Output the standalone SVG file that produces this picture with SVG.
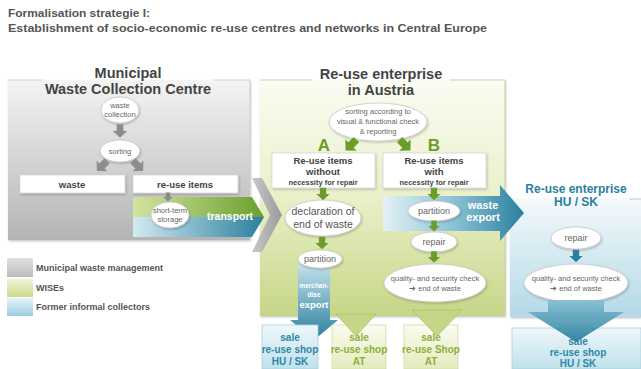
<svg xmlns="http://www.w3.org/2000/svg" xmlns:xlink="http://www.w3.org/1999/xlink" width="641" height="369" viewBox="0 0 641 369">
<defs>
<style>
text{font-family:"Liberation Sans",Arial,sans-serif;}
.ttl{font-size:11px;font-weight:bold;fill:#555;}
.hd{font-size:14.5px;font-weight:bold;fill:#444;text-anchor:middle;}
.hdb{font-size:12px;font-weight:bold;fill:#2a7f9e;text-anchor:middle;}
.el{fill:#fff;stroke:#c8c8c8;stroke-width:0.8;filter:url(#sh);}
.et{font-size:7.5px;fill:#666;text-anchor:middle;}
.em{font-size:9px;fill:#666;text-anchor:middle;}
.eb{font-size:10.5px;fill:#555;text-anchor:middle;}
.bx{fill:#fff;stroke:#d8d8d8;stroke-width:0.8;filter:url(#sh);}
.bt{font-size:9.5px;font-weight:bold;fill:#444;text-anchor:middle;}
.bs{font-size:7.5px;font-weight:bold;fill:#444;text-anchor:middle;}
.wt{font-weight:bold;fill:#fff;text-anchor:middle;}
.lg{font-size:9px;font-weight:bold;fill:#555;}
.sb{font-size:10px;font-weight:bold;fill:#2f87a6;text-anchor:middle;}
.sg{font-size:10px;font-weight:bold;fill:#8fae3c;text-anchor:middle;}
.ga{fill:#8c8c8c;}
.gr{fill:#6a9e2c;}
.bl{fill:#2a7f9e;}
.ab{font-size:17px;font-weight:bold;fill:#6a9e2c;text-anchor:middle;}
</style>
<filter id="sh" x="-20%" y="-20%" width="140%" height="150%"><feDropShadow dx="0.8" dy="1.2" stdDeviation="1" flood-color="#000" flood-opacity="0.25"/></filter>
<linearGradient id="gGray" x1="0" y1="0" x2="0" y2="1"><stop offset="0" stop-color="#f4f4f4"/><stop offset="1" stop-color="#b4b4b4"/></linearGradient>
<linearGradient id="gGreen" x1="0" y1="0" x2="0" y2="1"><stop offset="0" stop-color="#fbfcf3"/><stop offset="0.5" stop-color="#eaf0c8"/><stop offset="1" stop-color="#c6d688"/></linearGradient>
<linearGradient id="gBlue" x1="0" y1="0" x2="0" y2="1"><stop offset="0" stop-color="#f4f9fb"/><stop offset="1" stop-color="#b2d9e6"/></linearGradient>
<linearGradient id="gShopB" x1="0" y1="0" x2="0" y2="1"><stop offset="0" stop-color="#eef7fa"/><stop offset="1" stop-color="#bfe1ec"/></linearGradient>
<linearGradient id="gShopG" x1="0" y1="0" x2="0" y2="1"><stop offset="0" stop-color="#fbfcf0"/><stop offset="1" stop-color="#e4ebbd"/></linearGradient>
<linearGradient id="gTrG" x1="0" y1="0" x2="1" y2="0"><stop offset="0" stop-color="#d3e4a0"/><stop offset="1" stop-color="#6a9f2e"/></linearGradient>
<linearGradient id="gTrB" x1="0" y1="0" x2="1" y2="0"><stop offset="0" stop-color="#d3eaf2"/><stop offset="1" stop-color="#2a7f9e"/></linearGradient>
<linearGradient id="gWe" x1="0" y1="0" x2="1" y2="0"><stop offset="0" stop-color="#e4f1f6"/><stop offset="0.5" stop-color="#8cc2d6"/><stop offset="1" stop-color="#2a7f9e"/></linearGradient>
<linearGradient id="gMe" x1="0" y1="0" x2="0" y2="1"><stop offset="0" stop-color="#c4e1eb"/><stop offset="1" stop-color="#2a7f9e"/></linearGradient>
<linearGradient id="gBig" x1="0" y1="0" x2="0" y2="1"><stop offset="0" stop-color="#86c0d4"/><stop offset="1" stop-color="#2a7f9e"/></linearGradient>
<linearGradient id="gChev" x1="0" y1="0" x2="1" y2="0"><stop offset="0" stop-color="#c8c8c8"/><stop offset="1" stop-color="#9a9a9a"/></linearGradient>
<linearGradient id="gLg1" x1="0" y1="0" x2="0" y2="1"><stop offset="0" stop-color="#e2e2e2"/><stop offset="1" stop-color="#bdbdbd"/></linearGradient>
<linearGradient id="gLg2" x1="0" y1="0" x2="0" y2="1"><stop offset="0" stop-color="#f1f4d6"/><stop offset="1" stop-color="#cbd98c"/></linearGradient>
<linearGradient id="gLg3" x1="0" y1="0" x2="0" y2="1"><stop offset="0" stop-color="#e5f3f8"/><stop offset="1" stop-color="#9ccfe0"/></linearGradient>
<path id="blk" d="M-4.5,-9 H4.5 V0 H9.5 L0,9 L-9.5,0 H-4.5 Z"/>
</defs>

<rect width="641" height="369" fill="#fff"/>

<g id="title">
<text class="ttl" x="8" y="17" textLength="142" lengthAdjust="spacingAndGlyphs">Formalisation strategie I:</text>
<text class="ttl" x="8" y="32" textLength="479" lengthAdjust="spacingAndGlyphs">Establishment of socio-economic re-use centres and networks in Central Europe</text>
</g>

<!-- containers -->
<g id="municipal-centre">
<rect x="8" y="80" width="242" height="160" fill="url(#gGray)" filter="url(#sh)"/>
<path d="M8,80 H42 M214,80 H250 V240" fill="none" stroke="#d0d0d0" stroke-width="1"/>
<text class="hd" x="128" y="78">Municipal</text>
<text class="hd" x="128" y="94">Waste Collection Centre</text>
</g>

<g id="reuse-austria">
<rect x="260" y="80" width="245" height="236" fill="url(#gGreen)" filter="url(#sh)"/>
<path d="M260,80 H312 M450,80 H505 V316" fill="none" stroke="#c9d3a4" stroke-width="1"/>
<text class="hd" x="381" y="79">Re-use enterprise</text>
<text class="hd" x="381" y="95">in Austria</text>
</g>

<g id="reuse-husk">
<rect x="510" y="199" width="131" height="118" fill="url(#gBlue)" filter="url(#sh)"/>
<path d="M630,199 H641" fill="none" stroke="#b0ccd6" stroke-width="1"/>
<text class="hdb" x="576" y="193">Re-use enterprise</text>
<text class="hdb" x="576" y="206">HU / SK</text>
</g>

<!-- bands -->
<g id="transport">
<polygon points="252,178 262,178 282,215 262,252 252,252 270,215" fill="url(#gChev)"/>
<polygon points="133,197 252,197 264,217 133,217" fill="url(#gTrG)"/>
<polygon points="133,217 264,217 252,237 133,237" fill="url(#gTrB)"/>
<text class="wt" x="230" y="220" font-size="10.5">transport</text>
</g>

<g id="waste-export">
<polygon points="383,196 500,196 500,185 524,213 500,241 500,231 383,231" fill="url(#gWe)"/>
<text class="wt" x="483" y="209" font-size="11">waste</text>
<text class="wt" x="483" y="221" font-size="11">export</text>
</g>

<g id="merchandise-export">
<polygon points="298,264 330,264 330,320 338,320 314,340 290,320 298,320" fill="url(#gMe)"/>
<text class="wt" x="314" y="288" font-size="6.5">merchan-</text>
<text class="wt" x="314" y="297" font-size="6.5">dise</text>
<text class="wt" x="314" y="308" font-size="9.5">export</text>
</g>

<!-- municipal nodes -->
<g id="waste-collection">
<ellipse class="el" cx="120" cy="110" rx="19" ry="13"/>
<text class="et" x="120" y="108">waste</text>
<text class="et" x="120" y="117">collection</text>
</g>
<g id="sorting">
<ellipse class="el" cx="120" cy="151" rx="20" ry="11"/>
<text class="et" x="120" y="154">sorting</text>
</g>
<g id="waste">
<rect class="bx" x="20" y="175" width="105" height="18"/>
<text class="bt" x="72" y="188">waste</text>
</g>
<g id="reuse-items">
<rect class="bx" x="133" y="175" width="105" height="18"/>
<text class="bt" x="185" y="188">re-use items</text>
</g>
<g id="short-term-storage">
<ellipse class="el" cx="170" cy="215" rx="19" ry="13"/>
<text class="et" x="170" y="213">short-term</text>
<text class="et" x="170" y="222">storage</text>
</g>

<!-- austria nodes -->
<g id="sorting-check">
<ellipse class="el" cx="378" cy="122" rx="49" ry="19"/>
<text class="et" x="378" y="114">sorting according to</text>
<text class="et" x="378" y="124">visual &amp; functional check</text>
<text class="et" x="378" y="134">&amp; reporting</text>
</g>
<g id="label-a"><text class="ab" x="324" y="151">A</text></g>
<g id="label-b"><text class="ab" x="434" y="151">B</text></g>
<g id="items-without-repair">
<rect class="bx" x="272" y="153" width="103" height="35"/>
<text class="bt" x="323" y="164">Re-use items</text>
<text class="bt" x="323" y="175">without</text>
<text class="bs" x="323" y="185">necessity for repair</text>
</g>
<g id="items-with-repair">
<rect class="bx" x="383" y="153" width="103" height="35"/>
<text class="bt" x="434" y="164">Re-use items</text>
<text class="bt" x="434" y="175">with</text>
<text class="bs" x="434" y="185">necessity for repair</text>
</g>
<g id="declaration">
<ellipse class="el" cx="323" cy="218" rx="38" ry="18"/>
<text class="eb" x="323" y="215">declaration of</text>
<text class="eb" x="323" y="228">end of waste</text>
</g>
<g id="partition-a">
<ellipse class="el" cx="320" cy="259" rx="22" ry="9"/>
<text class="em" x="320" y="262">partition</text>
</g>
<g id="partition-b">
<ellipse class="el" cx="434" cy="211" rx="26" ry="10"/>
<text class="em" x="434" y="214">partition</text>
</g>
<g id="repair-b">
<ellipse class="el" cx="434" cy="242" rx="23" ry="10"/>
<text class="em" x="434" y="245">repair</text>
</g>
<g id="quality-b">
<ellipse class="el" cx="435" cy="283" rx="51" ry="19"/>
<text class="et" x="435" y="281">quality- and security check</text>
<text class="et" x="435" y="291">➜ end of waste</text>
</g>

<!-- husk nodes -->
<g id="repair-husk">
<ellipse class="el" cx="576" cy="238" rx="25" ry="11"/>
<text class="em" x="576" y="241">repair</text>
</g>
<g id="quality-husk">
<ellipse class="el" cx="576" cy="283" rx="52" ry="19"/>
<text class="et" x="576" y="281">quality- and security check</text>
<text class="et" x="576" y="291">➜ end of waste</text>
</g>

<!-- shops -->
<g id="shop-husk-1">
<rect x="262" y="325" width="56" height="44" fill="url(#gShopB)" stroke="#a9cfdc" stroke-width="0.8"/>
<text class="sb" x="290" y="341">sale</text>
<text class="sb" x="290" y="353">re-use shop</text>
<text class="sb" x="290" y="365">HU / SK</text>
</g>
<g id="shop-at-1">
<rect x="332" y="325" width="54" height="44" fill="url(#gShopG)" stroke="#d2dca4" stroke-width="0.8"/>
<text class="sg" x="359" y="341">sale</text>
<text class="sg" x="359" y="353">re-use shop</text>
<text class="sg" x="359" y="365">AT</text>
</g>
<g id="shop-at-2">
<rect x="404" y="325" width="54" height="44" fill="url(#gShopG)" stroke="#d2dca4" stroke-width="0.8"/>
<text class="sg" x="431" y="341">sale</text>
<text class="sg" x="431" y="353">re-use Shop</text>
<text class="sg" x="431" y="365">AT</text>
</g>
<g id="shop-husk-2">
<rect x="512" y="328" width="129" height="41" fill="url(#gShopB)" stroke="#a9cfdc" stroke-width="0.8"/>
<text class="sb" x="578" y="345" font-size="11">sale</text>
<text class="sb" x="578" y="356" font-size="11">re-use shop</text>
<text class="sb" x="578" y="367" font-size="11">HU / SK</text>
</g>

<!-- connectors -->
<g id="connectors">
<use xlink:href="#blk" class="ga" transform="translate(120,131) scale(0.75)"/>
<use xlink:href="#blk" class="ga" transform="translate(102,166) rotate(45) scale(0.8)"/>
<use xlink:href="#blk" class="ga" transform="translate(138,166) rotate(-45) scale(0.8)"/>
<use xlink:href="#blk" class="ga" transform="translate(168,197) scale(0.5)"/>
<use xlink:href="#blk" class="gr" transform="translate(351,145) rotate(45) scale(0.85)"/>
<use xlink:href="#blk" class="gr" transform="translate(405,145) rotate(-45) scale(0.85)"/>
<use xlink:href="#blk" class="gr" transform="translate(323,194) scale(0.7)"/>
<use xlink:href="#blk" class="gr" transform="translate(322,243) scale(0.7)"/>
<use xlink:href="#blk" class="gr" transform="translate(434,194) scale(0.7)"/>
<use xlink:href="#blk" class="gr" transform="translate(434,226) scale(0.6)"/>
<use xlink:href="#blk" class="gr" transform="translate(434,257) scale(0.65)"/>
<use xlink:href="#blk" class="bl" transform="translate(576,256) scale(0.7)"/>
<polygon points="336,314 376,314 356,336" fill="#c6d688" stroke="#a9c064" stroke-width="0.8"/>
<polygon points="412,310 462,310 437,336" fill="#c6d688" stroke="#a9c064" stroke-width="0.8"/>
<polygon points="548,300 604,300 604,312 624,312 576,342 528,312 548,312" fill="url(#gBig)" opacity="0.95"/>
</g>

<!-- legend -->
<g id="legend">
<rect x="7" y="258" width="26" height="19" fill="url(#gLg1)"/>
<rect x="7" y="279" width="26" height="18" fill="url(#gLg2)"/>
<rect x="7" y="298" width="26" height="18" fill="url(#gLg3)"/>
<text class="lg" x="36" y="271">Municipal waste management</text>
<text class="lg" x="36" y="291">WISEs</text>
<text class="lg" x="36" y="310">Former informal collectors</text>
</g>
</svg>
